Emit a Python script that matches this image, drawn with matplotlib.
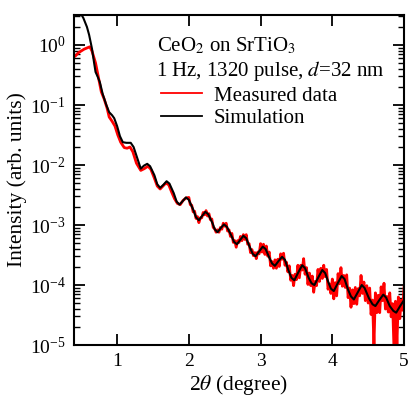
import numpy as np
import matplotlib
matplotlib.use('Agg')
import matplotlib.pyplot as plt

plt.rcParams['font.family'] = ['Liberation Serif', 'DejaVu Serif']
plt.rcParams['mathtext.fontset'] = 'stix'

# simulation curve: 2theta (deg), log10 intensity
sim_x = [0.40, 0.48, 0.53, 0.58, 0.61, 0.65, 0.68, 0.70, 0.73, 0.76, 0.80, 0.85,
         0.89, 0.93, 0.96, 1.00, 1.04, 1.08, 1.13, 1.19, 1.23, 1.28,
         1.33, 1.375, 1.42, 1.46, 1.52, 1.56, 1.60, 1.645, 1.69, 1.73, 1.79, 1.83,
         1.87, 1.915, 1.96, 2.00, 2.06, 2.10, 2.14, 2.185, 2.23, 2.27, 2.33, 2.36,
         2.40, 2.445, 2.49, 2.53, 2.59, 2.63, 2.67, 2.715, 2.76, 2.80, 2.85, 2.89,
         2.93, 2.98, 3.03, 3.07, 3.12, 3.16, 3.20, 3.25, 3.30, 3.34, 3.39, 3.43,
         3.47, 3.525, 3.58, 3.62, 3.67, 3.71, 3.75, 3.805, 3.86, 3.90, 3.95, 3.98,
         4.02, 4.075, 4.13, 4.17, 4.22, 4.26, 4.30, 4.355, 4.41, 4.45, 4.51, 4.56,
         4.60, 4.655, 4.71, 4.75, 4.80, 4.85, 4.89, 4.945, 5.00]
sim_logy = [0.62, 0.55, 0.45, 0.30, 0.17, -0.06, -0.30, -0.45, -0.53, -0.62, -0.82, -1.00,
            -1.12, -1.17, -1.22, -1.35, -1.52, -1.62, -1.63, -1.63, -1.70, -1.88,
            -2.06, -2.01, -1.98, -2.02, -2.17, -2.32, -2.38, -2.33, -2.27, -2.31, -2.47, -2.61,
            -2.66, -2.60, -2.54, -2.58, -2.74, -2.87, -2.92, -2.85, -2.78, -2.82, -2.97, -3.07,
            -3.12, -3.05, -2.99, -3.03, -3.17, -3.28, -3.32, -3.25, -3.18, -3.22, -3.37, -3.48,
            -3.52, -3.44, -3.36, -3.40, -3.54, -3.64, -3.68, -3.60, -3.53, -3.58, -3.76, -3.88,
            -3.92, -3.79, -3.67, -3.72, -3.88, -3.97, -4.00, -3.87, -3.75, -3.80, -3.97, -4.06,
            -4.10, -3.97, -3.85, -3.90, -4.08, -4.19, -4.24, -4.12, -4.00, -4.05, -4.22, -4.32,
            -4.35, -4.25, -4.16, -4.21, -4.35, -4.43, -4.46, -4.35, -4.25]

# measured data, low angle part
meas_x_low = [0.40, 0.43, 0.46, 0.50, 0.54, 0.58, 0.62, 0.65, 0.68, 0.70, 0.73, 0.75,
              0.78, 0.82, 0.86, 0.89, 0.93, 0.97, 1.01, 1.05, 1.10, 1.14, 1.18, 1.22,
              1.27, 1.33, 1.38, 1.43, 1.47, 1.52, 1.56, 1.60, 1.64, 1.68, 1.72, 1.76,
              1.80, 1.84, 1.88, 1.92, 1.96]
meas_logy_low = [-0.20, -0.17, -0.13, -0.10, -0.07, -0.05, -0.03, -0.10, -0.22, -0.30, -0.48, -0.60,
                 -0.78, -0.90, -1.05, -1.20, -1.27, -1.35, -1.50, -1.62, -1.71, -1.72, -1.70, -1.78,
                 -1.97, -2.09, -2.06, -2.02, -2.07, -2.22, -2.35, -2.40, -2.35, -2.30, -2.33, -2.45,
                 -2.56, -2.64, -2.66, -2.59, -2.55]

# measured data, 2.00 .. 5.00 every 0.02 deg (noisy)
meas_logy_high = [
    -2.54, -2.66, -2.67, -2.78, -2.77, -2.89, -2.86, -2.96, -2.88, -2.88,
    -2.79, -2.83, -2.76, -2.85, -2.81, -2.91, -2.90, -3.04, -3.06, -3.12,
    -3.08, -3.12, -3.04, -3.07, -2.97, -3.02, -2.97, -3.10, -3.08, -3.19,
    -3.14, -3.29, -3.26, -3.37, -3.26, -3.29, -3.19, -3.26, -3.16, -3.24,
    -3.16, -3.32, -3.31, -3.46, -3.41, -3.51, -3.46, -3.56, -3.45, -3.48,
    -3.31, -3.45, -3.32, -3.49, -3.35, -3.52, -3.45, -3.68, -3.61, -3.72,
    -3.58, -3.72, -3.57, -3.69, -3.48, -3.57, -3.47, -3.67, -3.62, -3.78,
    -3.68, -3.92, -3.84, -4.01, -3.82, -3.91, -3.67, -3.88, -3.67, -3.75,
    -3.56, -3.82, -3.71, -3.99, -3.80, -4.01, -3.85, -4.12, -3.94, -4.01,
    -3.74, -3.94, -3.72, -3.89, -3.67, -3.86, -3.74, -4.07, -3.98, -4.14,
    -3.90, -4.23, -3.96, -4.18, -3.81, -3.98, -3.71, -4.02, -3.84, -4.04,
    -3.83, -4.21, -4.05, -4.37, -4.08, -4.31, -4.04, -4.32, -4.06, -4.18,
    -3.84, -4.14, -3.95, -4.26, -4.01, -4.30, -4.05, -4.49, -4.25, -5.00,
    -4.13, -4.46, -4.17, -4.46, -4.03, -4.26, -3.97, -4.40, -4.19, -4.45,
    -4.13, -4.53, -4.31, -5.10, -4.27, -5.00, -4.20, -4.56, -4.25, -4.42,
    -4.03]
meas_x_high = [2.00 + 0.02 * i for i in range(len(meas_logy_high))]

meas_x = meas_x_low + meas_x_high
meas_y = 10 ** np.array(meas_logy_low + meas_logy_high)
sim_y = 10 ** np.array(sim_logy)

fig = plt.figure(figsize=(4.09, 4.05), dpi=100)
ax = fig.add_axes([0.181, 0.148, 0.807, 0.815])

ax.plot(meas_x, meas_y, color='#ff0000', lw=2.0, label='Measured data')
ax.plot(sim_x, sim_y, color='black', lw=1.5, label='Simulation')

ax.set_yscale('log')
ax.set_xlim(0.4, 5.0)
ax.set_ylim(1e-5, 10 ** 0.5)
ax.set_xticks([1, 2, 3, 4, 5])
ax.set_yticks([1e-5, 1e-4, 1e-3, 1e-2, 1e-1, 1e0])

ax.tick_params(which='major', direction='in', length=8, width=1.3,
               top=True, right=True, labelsize=14, pad=6)
ax.tick_params(which='minor', direction='in', length=4, width=1.0,
               top=False, right=True)
ax.xaxis.set_minor_locator(matplotlib.ticker.NullLocator())
for s in ax.spines.values():
    s.set_linewidth(1.5)

ax.set_xlabel(r'2$\theta$ (degree)', fontsize=15.5, labelpad=2)
ax.set_ylabel('Intensity (arb. units)', fontsize=15.5, labelpad=2)

ax.text(0.250, 0.906, r'CeO$_2$ on SrTiO$_3$', transform=ax.transAxes,
        fontsize=15, va='center', ha='left')
ax.text(0.248, 0.830, r'1 Hz, 1320 pulse, $d$=32 nm', transform=ax.transAxes,
        fontsize=15, va='center', ha='left')

leg = ax.legend(loc='upper left', bbox_to_anchor=(0.262, 0.785), frameon=False,
                fontsize=15, handlelength=2.0, handletextpad=0.55, labelspacing=0.15,
                borderaxespad=0, borderpad=0)
for h in leg.get_lines():
    h.set_linewidth(1.3)

fig.savefig('out.png', dpi=100)
